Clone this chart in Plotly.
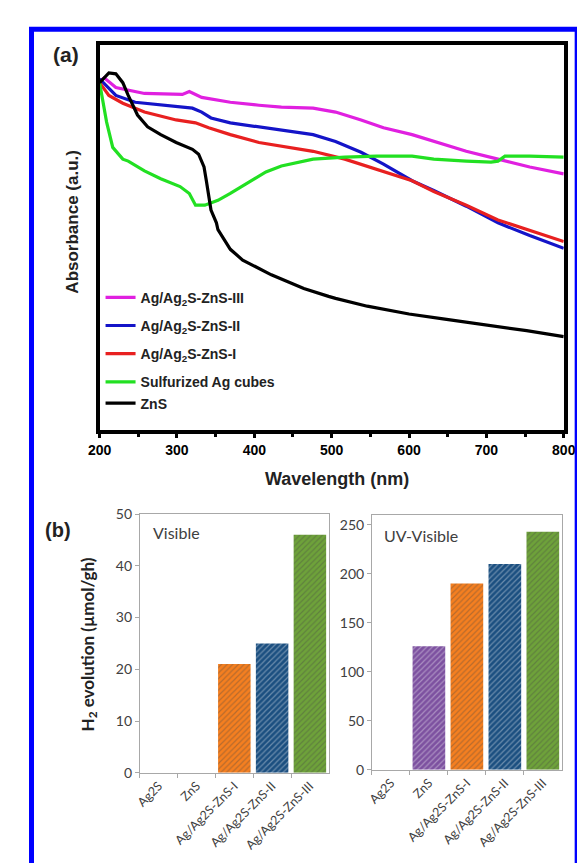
import plotly.graph_objects as go

# ---------------- Panel (a): absorbance spectra ----------------
wl_III = [200, 206, 221, 258, 307, 316, 332, 369, 406, 435, 476, 505, 538, 567, 604, 632, 674, 715, 756, 800]
abs_III = [3.55, 3.59, 3.49, 3.43, 3.42, 3.45, 3.39, 3.34, 3.31, 3.29, 3.28, 3.24, 3.16, 3.08, 3.01, 2.94, 2.84, 2.76, 2.68, 2.61]

wl_II = [200, 221, 246, 279, 320, 332, 344, 369, 406, 435, 476, 505, 538, 567, 604, 632, 674, 715, 756, 800]
abs_II = [3.58, 3.41, 3.34, 3.31, 3.28, 3.24, 3.18, 3.13, 3.09, 3.06, 3.01, 2.94, 2.83, 2.71, 2.54, 2.44, 2.28, 2.11, 1.98, 1.85]

wl_I = [200, 212, 230, 258, 299, 324, 341, 369, 406, 435, 476, 517, 558, 604, 632, 674, 715, 756, 800]
abs_I = [3.54, 3.41, 3.33, 3.24, 3.16, 3.13, 3.08, 3.01, 2.93, 2.89, 2.84, 2.76, 2.66, 2.54, 2.43, 2.29, 2.14, 2.03, 1.92]

wl_sAg = [200, 209, 217, 230, 237, 258, 279, 304, 316, 324, 336, 353, 369, 390, 406, 415, 435, 476, 517, 558, 604, 632, 674, 706, 715, 724, 756, 800]
abs_sAg = [3.54, 3.14, 2.88, 2.76, 2.74, 2.64, 2.56, 2.48, 2.41, 2.29, 2.29, 2.34, 2.41, 2.51, 2.59, 2.63, 2.69, 2.76, 2.78, 2.79, 2.79, 2.76, 2.74, 2.73, 2.74, 2.79, 2.79, 2.78]

wl_ZnS = [200, 212, 221, 230, 237, 249, 262, 279, 299, 320, 328, 335, 338, 341, 344, 351, 353, 369, 385, 422, 443, 464, 496, 505, 546, 600, 644, 699, 752, 800]
abs_ZnS = [3.54, 3.64, 3.63, 3.54, 3.41, 3.21, 3.09, 3.01, 2.93, 2.86, 2.81, 2.68, 2.54, 2.41, 2.24, 2.11, 2.04, 1.84, 1.73, 1.58, 1.51, 1.44, 1.36, 1.34, 1.26, 1.18, 1.13, 1.07, 1.01, 0.95]

spectra = [
    ("Ag/Ag<sub>2</sub>S-ZnS-III", wl_III, abs_III, "#E020E0", "g1"),
    ("Ag/Ag<sub>2</sub>S-ZnS-II", wl_II, abs_II, "#1414C8", "g2"),
    ("Ag/Ag<sub>2</sub>S-ZnS-I", wl_I, abs_I, "#E82020", "g3"),
    ("Sulfurized Ag cubes", wl_sAg, abs_sAg, "#22E022", "g4"),
    ("ZnS", wl_ZnS, abs_ZnS, "#000000", "g4"),
]

# ---------------- Panel (b): H2 evolution ----------------
categories = ["Ag2S", "ZnS", "Ag/Ag2S-ZnS-I", "Ag/Ag2S-ZnS-II", "Ag/Ag2S-ZnS-III"]
h2_visible = [0, 0, 21, 25, 46]
h2_uv_visible = [0, 126, 190, 210, 243]
bar_colors = ["#7D51A0", "#7D51A0", "#F57F20", "#1B4F80", "#6EA23A"]

W, H = 585, 863
def px_x(p):
    return p / W
def px_y(p):
    return (H - p) / H

fig = go.Figure()

for name, x, y, c, grp in spectra:
    fig.add_trace(go.Scatter(
        x=x, y=y, mode="lines", name=name, legendgroup=grp,
        line=dict(color=c, width=3.2), xaxis="x", yaxis="y",
    ))

pattern = dict(shape="/", fgcolor="white", fgopacity=0.35, size=4, solidity=0.3, fillmode="overlay")
fig.add_trace(go.Bar(
    x=categories, y=h2_visible, marker=dict(color=bar_colors, pattern=pattern, line=dict(width=0)),
    width=0.86, showlegend=False, xaxis="x2", yaxis="y2",
))
fig.add_trace(go.Bar(
    x=categories, y=h2_uv_visible, marker=dict(color=bar_colors, pattern=pattern, line=dict(width=0)),
    width=0.86, showlegend=False, xaxis="x3", yaxis="y3",
))

arial_b = dict(family="Liberation Sans, Arial", size=14, color="black", weight="bold")
gray_font = dict(family="Lato, Open Sans", size=14, color="#404040")
cat_font = dict(family="Lato, Open Sans", size=12.5, color="#404040")
grid_gray = "#A8A8A8"

fig.update_layout(
    width=W, height=H,
    margin=dict(l=0, r=0, t=0, b=0),
    paper_bgcolor="white", plot_bgcolor="white",
    showlegend=True,
    legend=dict(
        x=px_x(84), y=px_y(270), xanchor="left", yanchor="top",
        font=dict(family="Liberation Sans, Arial", size=14, color="#222222", weight="bold"),
        traceorder="grouped", tracegroupgap=7, bgcolor="rgba(0,0,0,0)",
    ),
    xaxis=dict(
        domain=[px_x(83), px_x(567)], anchor="y", range=[200, 800],
        showline=True, linecolor="black", linewidth=3.5, mirror=True,
        ticks="outside", ticklen=5, tickwidth=2.5, tickcolor="black",
        tickvals=[200, 300, 400, 500, 600, 700, 800],
        minor=dict(tickvals=[250, 350, 450, 550, 650, 750], ticks="outside", ticklen=4, tickwidth=2.5, tickcolor="black"),
        tickfont=arial_b, showgrid=False, zeroline=False,
    ),
    yaxis=dict(
        domain=[px_y(421), px_y(29)], anchor="x", range=[0, 3.92],
        showline=True, linecolor="black", linewidth=3.5, mirror=True,
        showticklabels=False, ticks="", showgrid=False, zeroline=False,
    ),
    xaxis2=dict(
        domain=[px_x(125), px_x(322)], anchor="y2", type="category",
        showline=True, linecolor=grid_gray, linewidth=1, mirror=True,
        ticks="outside", tickson="boundaries", ticklen=4, tickcolor=grid_gray,
        tickangle=-45, tickfont=cat_font, showgrid=False,
    ),
    yaxis2=dict(
        domain=[px_y(771), px_y(507)], anchor="x2", range=[0, 50], dtick=10,
        showline=True, linecolor=grid_gray, linewidth=1, mirror=True,
        ticks="outside", ticklen=4, tickcolor=grid_gray, tickfont=gray_font,
        showgrid=False, zeroline=False,
    ),
    xaxis3=dict(
        domain=[px_x(367), px_x(565)], anchor="y3", type="category",
        showline=True, linecolor=grid_gray, linewidth=1, mirror=True,
        ticks="outside", tickson="boundaries", ticklen=4, tickcolor=grid_gray,
        tickangle=-45, tickfont=cat_font, showgrid=False,
    ),
    yaxis3=dict(
        domain=[px_y(768), px_y(508)], anchor="x3", range=[0, 260], dtick=50,
        showline=True, linecolor=grid_gray, linewidth=1, mirror=True,
        ticks="outside", ticklen=4, tickcolor=grid_gray, tickfont=gray_font,
        showgrid=False, zeroline=False,
    ),
)

annotations = [
    dict(text="(a)", x=px_x(48), y=px_y(38), font=dict(family="Liberation Sans, Arial", size=21, color="#222222", weight="bold")),
    dict(text="Absorbance (a.u.)", x=px_x(55), y=px_y(209), textangle=-90,
         font=dict(family="Liberation Sans, Arial", size=17, color="#222222", weight="bold")),
    dict(text="Wavelength (nm)", x=px_x(331), y=px_y(471),
         font=dict(family="Liberation Sans, Arial", size=18, color="#222222", weight="bold")),
    dict(text="(b)", x=px_x(40), y=px_y(523), font=dict(family="Liberation Sans, Arial", size=20, color="#222222", weight="bold")),
    dict(text="H<sub>2</sub> evolution (µmol/gh)", x=px_x(72), y=px_y(640), textangle=-90,
         font=dict(family="Lato, Open Sans", size=17, color="#222222", weight="bold")),
    dict(text="Visible", x=px_x(137), y=px_y(526), xanchor="left",
         font=dict(family="Lato, Open Sans", size=16, color="#404040")),
    dict(text="UV-Visible", x=px_x(377), y=px_y(529), xanchor="left",
         font=dict(family="Lato, Open Sans", size=16, color="#404040")),
]
for a in annotations:
    a.setdefault("xanchor", "center")
    a.update(xref="paper", yref="paper", showarrow=False, yanchor="middle")
fig.update_layout(annotations=annotations)

fig.add_shape(type="rect", xref="paper", yref="paper",
              x0=px_x(12), x1=px_x(581), y0=px_y(870), y1=px_y(12.5),
              line=dict(color="#0000FF", width=5), fillcolor="rgba(0,0,0,0)", layer="above")

fig.write_html("out.html")
